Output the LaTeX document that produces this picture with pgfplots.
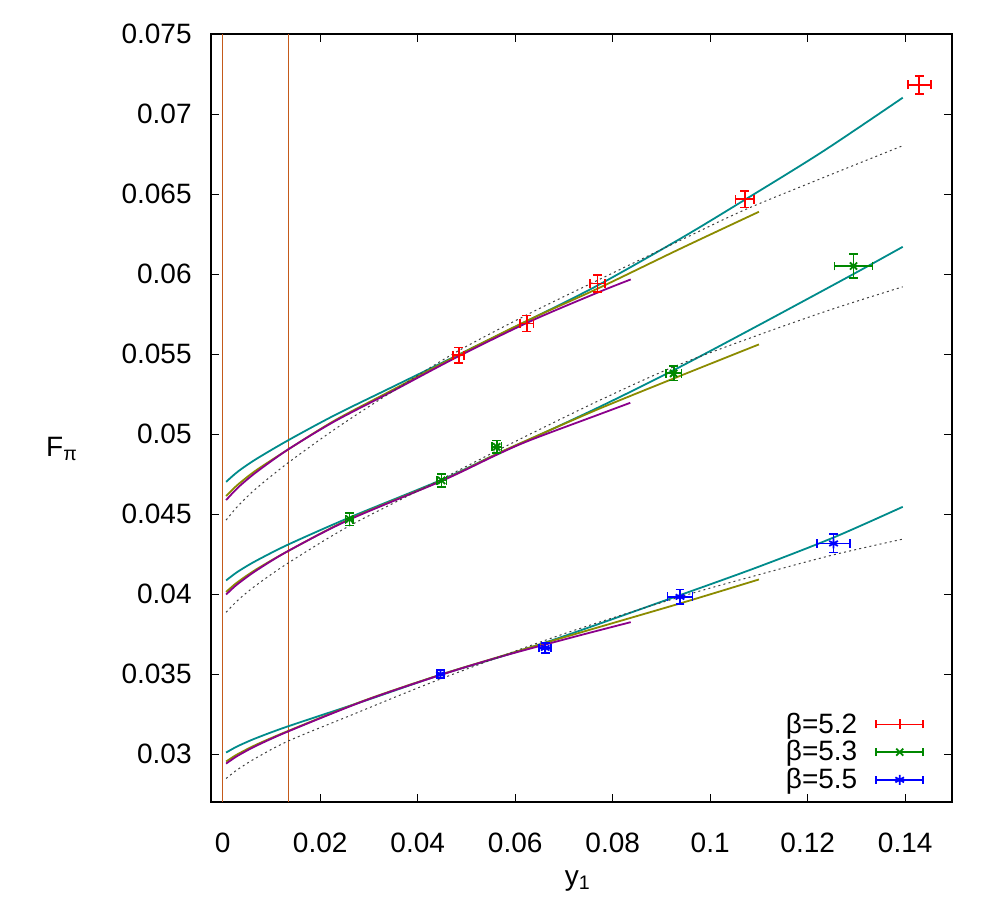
\documentclass[border=0pt]{standalone}
\usepackage{fontspec}
\setmainfont{Liberation Sans}
\usepackage{pgfplots}
\pgfplotsset{compat=1.18}
\definecolor{cteal}{HTML}{008B8B}
\definecolor{colive}{HTML}{8B8B00}
\definecolor{cpurp}{HTML}{8B008B}
\definecolor{corng}{HTML}{C45A1A}
\definecolor{cgreen}{HTML}{008800}
\definecolor{cdot}{HTML}{404040}
\begin{document}
\begin{tikzpicture}[font=\fontsize{14}{16.8}\selectfont]
\path[use as bounding box] (-105.5pt,-60.5pt) rectangle (393pt,401pt);
\begin{axis}[
  at={(0pt,0pt)}, anchor=south west,
  scale only axis, width=370.5pt, height=384pt,
  xmin=-0.0024, xmax=0.1496, ymin=0.027, ymax=0.075,
  scaled x ticks=false, scaled y ticks=false,
  axis line style={line width=0.9pt},
  tick style={line width=0.5pt, black},
  major tick length=4pt, tick align=inside,
  xtick={0,0.02,0.04,0.06,0.08,0.1,0.12,0.14},
  xticklabels={0,0.02,0.04,0.06,0.08,0.1,0.12,0.14},
  ytick={0.03,0.035,0.04,0.045,0.05,0.055,0.06,0.065,0.07,0.075},
  yticklabels={0.03,0.035,0.04,0.045,0.05,0.055,0.06,0.065,0.07,0.075},
  /pgf/number format/assume math mode=true,
  xticklabel style={inner sep=0pt, anchor=north, yshift=-15.3pt},
  yticklabel style={inner sep=0pt, anchor=east, xshift=-9.5pt},
  xlabel={y\textsubscript{1}}, ylabel={F\textsubscript{π}},
  every axis x label/.style={at={(axis description cs:0.495,0)}, anchor=center, yshift=-39.5pt},
  every axis y label/.style={at={(axis description cs:0,0.46)}, anchor=center, xshift=-74.5pt},
  legend plot pos=right,
  legend cell align=right,
  legend style={draw=none, fill=none, at={(rel axis cs:0.971,0.008)}, anchor=south east,
    nodes={inner sep=0pt}, column sep=9pt, row sep=2.2pt},
  legend image code/.code={
    \draw[#1,mark=none] (0pt,0pt) -- (23.5pt,0pt);
    \draw[#1,mark=none] (0pt,-2pt) -- (0pt,2pt);
    \draw[#1,mark=none] (23.5pt,-2pt) -- (23.5pt,2pt);
    \draw[#1] plot coordinates {(11.75pt,0pt)};
  },
  curve/.style={line width=0.9pt, smooth, no markers, forget plot},
  dotc/.style={line width=0.5pt, cdot, smooth, no markers, forget plot, dash pattern=on 1pt off 1.6pt},
]
% orange vertical lines
\addplot[corng, line width=0.75pt, forget plot] coordinates {(0,0.027) (0,0.075)};
\addplot[corng, line width=0.75pt, forget plot] coordinates {(0.0135,0.027) (0.0135,0.075)};

% ---- beta = 5.2 curves
\addplot[curve, cteal] table[row sep=\\] {
x y\\ 0.0007 0.04701\\ 0.0025 0.04750\\ 0.004 0.04785\\ 0.007 0.04846\\ 0.0135 0.04962\\
0.023 0.05118\\ 0.034 0.05282\\ 0.048 0.05490\\ 0.063 0.05715\\ 0.077 0.05930\\
0.094 0.06223\\ 0.107 0.06462\\ 0.123 0.06764\\ 0.1395 0.07102\\
};
\addplot[curve, colive] table[row sep=\\] {
x y\\ 0.0007 0.04613\\ 0.0025 0.04667\\ 0.004 0.04706\\ 0.007 0.04776\\ 0.0135 0.04905\\
0.023 0.05085\\ 0.034 0.05262\\ 0.048 0.05488\\ 0.063 0.05716\\ 0.077 0.05910\\
0.094 0.06160\\ 0.110 0.06389\\
};
\addplot[curve, cpurp] table[row sep=\\] {
x y\\ 0.0007 0.04587\\ 0.0025 0.04646\\ 0.004 0.04689\\ 0.007 0.04764\\ 0.0135 0.04905\\
0.023 0.05080\\ 0.034 0.05254\\ 0.048 0.05480\\ 0.063 0.05703\\ 0.077 0.05885\\ 0.0837 0.05966\\
};
\addplot[dotc] table[row sep=\\] {
x y\\ 0.0007 0.04462\\ 0.0025 0.04529\\ 0.004 0.04577\\ 0.007 0.04663\\ 0.0135 0.04822\\
0.023 0.05030\\ 0.034 0.05250\\ 0.048 0.05514\\ 0.063 0.05754\\ 0.077 0.05962\\
0.094 0.06212\\ 0.107 0.06400\\ 0.123 0.06600\\ 0.1395 0.06802\\
};

% ---- beta = 5.3 curves
\addplot[curve, cteal] table[row sep=\\] {
x y\\ 0.0007 0.04085\\ 0.0025 0.04127\\ 0.004 0.04157\\ 0.007 0.04210\\ 0.0135 0.04310\\
0.026 0.04478\\ 0.045 0.04715\\ 0.0562 0.04875\\ 0.0631 0.04968\\ 0.077 0.05165\\
0.0925 0.05399\\ 0.110 0.05681\\ 0.1294 0.06000\\ 0.1395 0.06170\\
};
\addplot[curve, colive] table[row sep=\\] {
x y\\ 0.0007 0.04013\\ 0.0025 0.04061\\ 0.004 0.04095\\ 0.007 0.04156\\ 0.0135 0.04270\\
0.026 0.04468\\ 0.045 0.04710\\ 0.0562 0.04875\\ 0.0631 0.04970\\ 0.077 0.05155\\
0.0925 0.05347\\ 0.110 0.05560\\
};
\addplot[curve, cpurp] table[row sep=\\] {
x y\\ 0.0007 0.03997\\ 0.0025 0.04048\\ 0.004 0.04084\\ 0.007 0.04149\\ 0.0135 0.04270\\
0.026 0.04465\\ 0.045 0.04708\\ 0.0562 0.04870\\ 0.0631 0.04962\\ 0.077 0.05120\\ 0.0836 0.05195\\
};
\addplot[dotc] table[row sep=\\] {
x y\\ 0.0007 0.03886\\ 0.0025 0.03943\\ 0.004 0.03985\\ 0.007 0.04058\\ 0.0135 0.04195\\
0.026 0.04426\\ 0.045 0.04720\\ 0.0562 0.04895\\ 0.0631 0.05000\\ 0.077 0.05206\\
0.0925 0.05420\\ 0.110 0.05620\\ 0.125 0.05780\\ 0.1395 0.05920\\
};

% ---- beta = 5.5 curves
\addplot[curve, cteal] table[row sep=\\] {
x y\\ 0.0007 0.03009\\ 0.0025 0.03040\\ 0.004 0.03062\\ 0.007 0.03101\\ 0.0135 0.03174\\
0.0292 0.03333\\ 0.0447 0.03495\\ 0.057 0.03608\\ 0.0692 0.03728\\ 0.0938 0.03993\\
0.1099 0.04170\\ 0.1253 0.04353\\ 0.1395 0.04545\\
};
\addplot[curve, colive] table[row sep=\\] {
x y\\ 0.0007 0.02953\\ 0.0025 0.02989\\ 0.004 0.03014\\ 0.007 0.03060\\ 0.0135 0.03145\\
0.0292 0.03336\\ 0.0447 0.03496\\ 0.057 0.03610\\ 0.0692 0.03722\\ 0.0938 0.03941\\ 0.110 0.04091\\
};
\addplot[curve, cpurp] table[row sep=\\] {
x y\\ 0.0007 0.02940\\ 0.0025 0.02978\\ 0.004 0.03005\\ 0.007 0.03053\\ 0.0135 0.03142\\
0.0292 0.03334\\ 0.0447 0.03494\\ 0.057 0.03608\\ 0.0723 0.03734\\ 0.0837 0.03824\\
};
\addplot[dotc] table[row sep=\\] {
x y\\ 0.0007 0.02847\\ 0.0025 0.02891\\ 0.004 0.02922\\ 0.007 0.02978\\ 0.0135 0.03082\\
0.0258 0.03236\\ 0.0447 0.03469\\ 0.0692 0.03743\\ 0.0938 0.03982\\ 0.1099 0.04120\\
0.1253 0.04245\\ 0.1395 0.04343\\
};

% ---- data points
\addplot[red, only marks, mark=+, mark size=2.5pt, line width=0.9pt,
  error bars/.cd, x dir=both, y dir=both, x explicit, y explicit,
  error bar style={line width=0.9pt}, error mark options={rotate=90, mark size=2.2pt, line width=0.9pt}]
  table[row sep=\\, x=x, y=y, x error=ex, y error=ey] {
x y ex ey\\
0.0484 0.05493 0.00117 0.00048\\
0.0624 0.05691 0.00137 0.00050\\
0.0769 0.05941 0.00154 0.00054\\
0.1071 0.06468 0.00190 0.00052\\
0.1429 0.07183 0.00236 0.00057\\
};
\addlegendentry{β=5.2}
\addplot[cgreen, only marks, mark=x, mark size=2.5pt, line width=0.9pt,
  error bars/.cd, x dir=both, y dir=both, x explicit, y explicit,
  error bar style={line width=0.9pt}, error mark options={rotate=90, mark size=2.2pt, line width=0.9pt}]
  table[row sep=\\, x=x, y=y, x error=ex, y error=ey] {
x y ex ey\\
0.0260 0.04468 0.0008 0.0004\\
0.0449 0.04710 0.0010 0.0004\\
0.0562 0.04920 0.0010 0.0004\\
0.0925 0.05379 0.0016 0.00044\\
0.1294 0.06050 0.0039 0.00073\\
};
\addlegendentry{β=5.3}
\addplot[blue, only marks, mark=asterisk, mark size=2.5pt, line width=0.9pt,
  error bars/.cd, x dir=both, y dir=both, x explicit, y explicit,
  error bar style={line width=0.9pt}, error mark options={rotate=90, mark size=2.2pt, line width=0.9pt}]
  table[row sep=\\, x=x, y=y, x error=ex, y error=ey] {
x y ex ey\\
0.04468 0.03499 0.0008 0.00025\\
0.06615 0.03663 0.0012 0.0003\\
0.0938 0.03982 0.00256 0.00046\\
0.1253 0.04316 0.0034 0.00057\\
};
\addlegendentry{β=5.5}
\end{axis}
\end{tikzpicture}
\end{document}
